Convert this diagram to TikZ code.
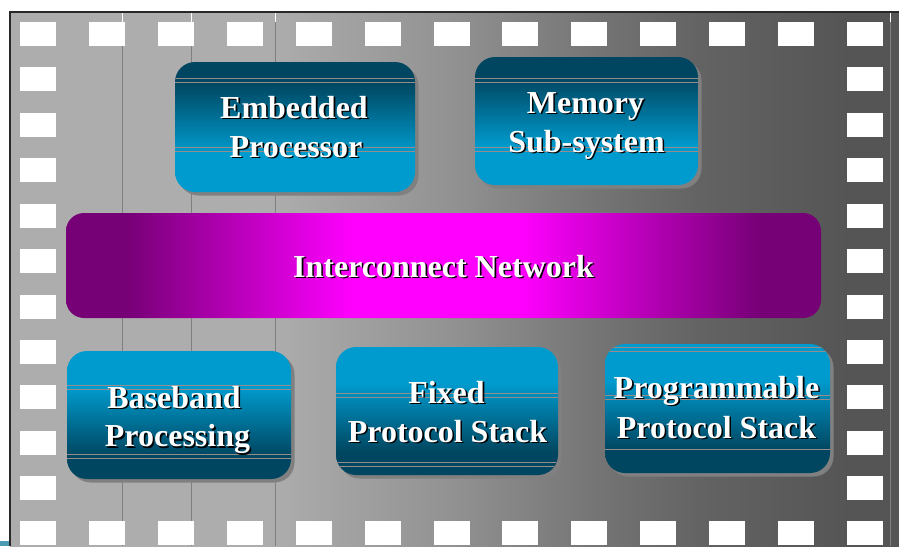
\documentclass[tikz,border=0pt]{standalone}
\usepackage{fontspec}
\setmainfont{Liberation Serif}
\usetikzlibrary{shadows}

% palette
\definecolor{bgA}{RGB}{173,173,173}
\definecolor{bgB}{RGB}{146,146,146}
\definecolor{bgC}{RGB}{116,116,116}
\definecolor{bgD}{RGB}{99,99,99}
\definecolor{bgE}{RGB}{85,85,85}
\definecolor{boxdark}{RGB}{0,70,96}
\definecolor{boxlight}{RGB}{0,155,206}
\definecolor{netdark}{RGB}{118,0,118}
\definecolor{netbright}{RGB}{255,0,255}
\definecolor{boxshadow}{RGB}{128,128,128}
\definecolor{ruleclr}{RGB}{150,140,140}
\definecolor{guideclr}{RGB}{128,128,128}
\definecolor{frameclr}{RGB}{40,40,40}
\definecolor{cornermark}{RGB}{74,154,180}

% board background: flat light grey on the left, darkening to the right
\pgfdeclarehorizontalshading{bgshade}{100bp}{color(0bp)=(bgA); color(25bp)=(bgA);
  color(39.6bp)=(bgA); color(49.75bp)=(bgB); color(58.2bp)=(bgC);
  color(63.8bp)=(bgD); color(72.2bp)=(bgE); color(75bp)=(bgE); color(100bp)=(bgE)}
% blue blocks: dark at the top, light at the bottom
\pgfdeclareverticalshading{bluedown}{100bp}{color(0bp)=(boxlight); color(40bp)=(boxlight);
  color(67bp)=(boxdark); color(100bp)=(boxdark)}
% blue blocks: light at the top, dark at the bottom
\pgfdeclareverticalshading{blueup}{100bp}{color(0bp)=(boxdark); color(34bp)=(boxdark);
  color(61bp)=(boxlight); color(100bp)=(boxlight)}
% interconnect bar: purple ends, magenta middle
\pgfdeclarehorizontalshading{netshade}{100bp}{color(0bp)=(netdark); color(29bp)=(netdark);
  color(44bp)=(netbright); color(55bp)=(netbright); color(71bp)=(netdark); color(100bp)=(netdark)}

% white label with a dark drop shadow
\newcommand\shadedlabel[4]{%
  \node[labelshadow] (#1-shadow) at (#2+1.6,#3+1.6) {#4};
  \node[labeltext] (#1) at (#2,#3) {#4};}

\begin{document}
\begin{tikzpicture}[x=1pt,y=-1pt,
  pad/.style={fill=white},
  guide/.style={draw=guideclr, line width=0.8pt},
  ruleline/.style={draw=ruleclr, line width=0.8pt},
  rules/.style 2 args={path picture={
    \draw[ruleline] ([yshift=-#1]path picture bounding box.north west) -- ([yshift=-#1]path picture bounding box.north east);
    \draw[ruleline] ([yshift={-(#1+4)}]path picture bounding box.north west) -- ([yshift={-(#1+4)}]path picture bounding box.north east);
    \draw[ruleline] ([yshift=-#2]path picture bounding box.north west) -- ([yshift=-#2]path picture bounding box.north east);
    \draw[ruleline] ([yshift={-(#2+4)}]path picture bounding box.north west) -- ([yshift={-(#2+4)}]path picture bounding box.north east);
  }},
  blockbase/.style={rectangle, rounded corners=20pt, inner sep=0pt, draw=none,
    drop shadow={shadow xshift=3.5pt, shadow yshift=-3.5pt, fill=boxshadow, opacity=1}},
  blockdown/.style={blockbase, shade, shading=bluedown},
  blockup/.style={blockbase, shade, shading=blueup},
  netbox/.style={rectangle, rounded corners=18pt, inner sep=0pt, draw=none, shade, shading=netshade},
  labeltext/.style={text=white, font=\fontsize{32}{39}\selectfont\bfseries, inner sep=0pt, anchor=base},
  labelshadow/.style={labeltext, text=black},
]
\useasboundingbox (0,0) rectangle (899,546);
\fill[white] (0,0) rectangle (899,546);

% board
\shade[shading=bgshade] (10,12) rectangle (899,546);
\fill[cornermark] (0,541) rectangle (9,546);

% thin vertical guides
\foreach \gx in {122,191,275,890} {
  \draw[guide] (\gx,22) -- (\gx,546);
  \draw[white, line width=0.8pt] (\gx,12.7) -- (\gx,22);
}

% frame
\draw[frameclr, line width=1.5pt] (10,546) -- (10,12) -- (899,12);

% white pads round the edge
\foreach \k in {0,...,12} {
  \fill[pad] (20+68.92*\k,22) rectangle +(36,24);
  \fill[pad] (20+68.92*\k,521) rectangle +(36,24);
}
\foreach \k in {1,...,10} {
  \fill[pad] (20,22+45.42*\k) rectangle +(36,24);
  \fill[pad] (847,22+45.42*\k) rectangle +(36,24);
}

% blocks
\node[blockdown, rules={16}{85}, minimum width=240pt, minimum height=130pt] (emb) at (295,127) {};
\node[blockdown, rules={21}{90}, minimum width=223pt, minimum height=128pt] (mem) at (586.5,121) {};
\node[netbox, minimum width=755pt, minimum height=105pt] (net) at (443.5,265.5) {};
\node[blockup, rules={34}{103}, minimum width=224pt, minimum height=128pt] (base) at (179,415) {};
\node[blockup, rules={46}{115}, minimum width=222pt, minimum height=128pt] (fixed) at (447,411) {};
\node[blockup, rules={3}{51}, minimum width=225pt, minimum height=129pt] (prog) at (717.5,408.5) {};
\draw[ruleline] ([yshift=-106pt]prog.north west) -- ([yshift=-106pt]prog.north east);

% labels
\shadedlabel{emb-a}{294}{118}{Embedded}
\shadedlabel{emb-b}{296}{157}{Processor}
\shadedlabel{mem-a}{585.5}{113}{Memory}
\shadedlabel{mem-b}{586.5}{152}{Sub-system}
\shadedlabel{net-a}{443.5}{277}{Interconnect Network}
\shadedlabel{base-a}{174}{408}{Baseband}
\shadedlabel{base-b}{177.5}{446.5}{Processing}
\shadedlabel{fixed-a}{446.5}{403}{Fixed}
\shadedlabel{fixed-b}{447.5}{442}{Protocol Stack}
\shadedlabel{prog-a}{716.5}{398}{Programmable}
\shadedlabel{prog-b}{716.5}{438}{Protocol Stack}
\end{tikzpicture}
\end{document}
